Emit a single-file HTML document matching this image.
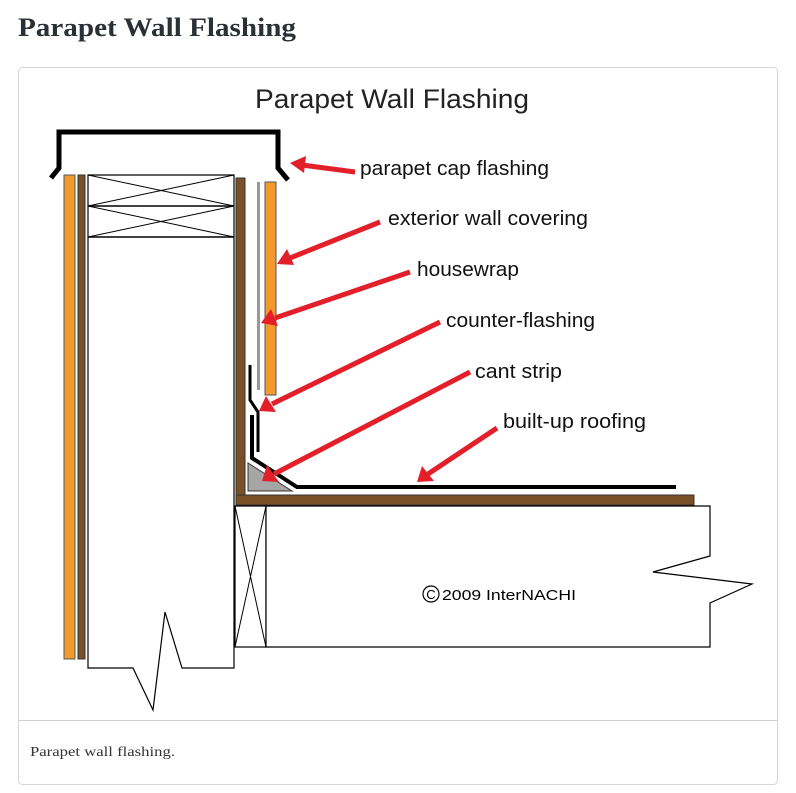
<!DOCTYPE html>
<html><head><style>
html,body{margin:0;padding:0;background:#fff;width:796px;height:793px;overflow:hidden}
</style></head><body>
<svg width="796" height="793" viewBox="0 0 796 793" xmlns="http://www.w3.org/2000/svg" style="position:absolute;left:0;top:0">
<text x="18" y="36" font-family="Liberation Serif, serif" font-weight="bold" font-size="26" fill="#2b2f36" textLength="278" lengthAdjust="spacingAndGlyphs">Parapet Wall Flashing</text>
<rect x="18.5" y="67.5" width="759" height="717" rx="4" fill="#fff" stroke="#d6d6d6"/>
<line x1="19" y1="720.5" x2="777" y2="720.5" stroke="#d0d0d0"/>
<text x="30" y="756" font-family="Liberation Serif, serif" font-size="14" fill="#333" textLength="145" lengthAdjust="spacingAndGlyphs">Parapet wall flashing.</text>

<text x="392" y="108" text-anchor="middle" font-family="Liberation Sans, sans-serif" font-size="27" fill="#222" textLength="274" lengthAdjust="spacingAndGlyphs">Parapet Wall Flashing</text>

<!-- cap -->
<polyline points="51,178 59,168 59,132 278,132 278,168 288,180" fill="none" stroke="#000" stroke-width="5"/>
<!-- left wall -->
<rect x="64" y="175" width="11" height="484" fill="#f39a2e" stroke="#555" stroke-width="1"/>
<rect x="78" y="175" width="7" height="484" fill="#7a5026" stroke="#333" stroke-width="1"/>
<polygon points="88,175 234,175 234,668 182,668 165,612 153,710 133,668 88,668" fill="#fff" stroke="#000" stroke-width="1.2"/>
<line x1="88" y1="206" x2="234" y2="206" stroke="#000" stroke-width="1.5"/>
<line x1="88" y1="237" x2="234" y2="237" stroke="#000" stroke-width="1.5"/>
<path d="M88 175L234 206M234 175L88 206M88 206L234 237M234 206L88 237" stroke="#000" stroke-width="1"/>
<!-- right side of wall -->
<rect x="236" y="178" width="9" height="318" fill="#7a5026" stroke="#333" stroke-width="1"/>
<rect x="257" y="182" width="3" height="208" fill="#999"/>
<rect x="265" y="182" width="11" height="213" fill="#f39a2e" stroke="#555" stroke-width="1"/>
<!-- counter flashing -->
<polyline points="250,365 250,400 258,412 258,452" fill="none" stroke="#000" stroke-width="3"/>
<!-- cant -->
<polygon points="248,463 248,491 292,491" fill="#a6a6a6" stroke="#333" stroke-width="1"/>
<polyline points="252,415 252,458 297,487 676,487" fill="none" stroke="#000" stroke-width="4"/>
<!-- deck -->
<rect x="236" y="495" width="458" height="10" fill="#7a5026" stroke="#333" stroke-width="1"/>
<!-- lower -->
<rect x="235" y="506" width="31" height="141" fill="#fff" stroke="#000" stroke-width="1.2"/>
<path d="M235 506L266 647M266 506L235 647" stroke="#000" stroke-width="1"/>
<polygon points="266,506 710,506 710,556 653,572 752,584 710,603 710,647 266,647" fill="#fff" stroke="#000" stroke-width="1.2"/>
<circle cx="431" cy="594" r="8" fill="none" stroke="#000" stroke-width="1.2"/>
<text x="431" y="599" text-anchor="middle" font-family="Liberation Sans, sans-serif" font-size="13" fill="#000">C</text>
<text x="442" y="600" font-family="Liberation Sans, sans-serif" font-size="15" fill="#000" textLength="134" lengthAdjust="spacingAndGlyphs">2009 InterNACHI</text>

<!-- arrows -->
<defs><marker id="a" markerWidth="6" markerHeight="6" refX="1" refY="3" orient="auto" markerUnits="strokeWidth"><path d="M0,3 L5,0.6 L4,3 L5,5.4 Z" fill="#e3202a" transform="rotate(180 3 3)"/></marker></defs>
<g stroke="#e3202a" stroke-width="5" fill="none">
<line x1="355" y1="172" x2="302" y2="165"/>
<line x1="380" y1="222" x2="290" y2="258"/>
<line x1="410" y1="272" x2="275" y2="318"/>
<line x1="440" y1="322" x2="272" y2="404"/>
<line x1="470" y1="372" x2="274" y2="474"/>
<line x1="497" y1="428" x2="428" y2="474"/>
</g>
<g fill="#e3202a">
<polygon points="290,163 306,156 304,173"/>
<polygon points="277,264 287,249 294,265"/>
<polygon points="261,323 271,309 278,326"/>
<polygon points="259,411 266,396 276,412"/>
<polygon points="262,481 267,465 279,482"/>
<polygon points="417,482 422,466 434,481"/>
</g>
<g font-family="Liberation Sans, sans-serif" font-size="20" fill="#111">
<text x="360" y="175" textLength="189" lengthAdjust="spacingAndGlyphs">parapet cap flashing</text>
<text x="388" y="225" textLength="200" lengthAdjust="spacingAndGlyphs">exterior wall covering</text>
<text x="417" y="276" textLength="102" lengthAdjust="spacingAndGlyphs">housewrap</text>
<text x="446" y="327" textLength="149" lengthAdjust="spacingAndGlyphs">counter-flashing</text>
<text x="475" y="378" textLength="87" lengthAdjust="spacingAndGlyphs">cant strip</text>
<text x="503" y="428" textLength="143" lengthAdjust="spacingAndGlyphs">built-up roofing</text>
</g>
</svg>
</body></html>
